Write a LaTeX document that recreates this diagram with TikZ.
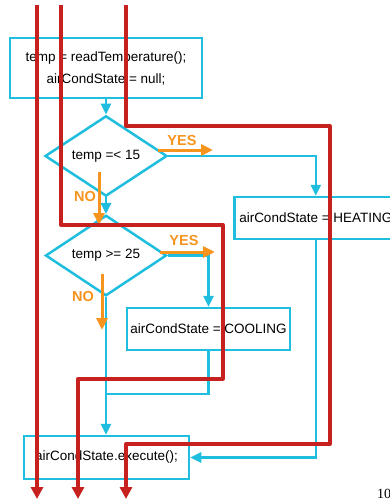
\documentclass[tikz,border=0pt]{standalone}
\usepackage{fontspec}
\setmainfont{Liberation Sans}
\newfontfamily\pagefont{Liberation Serif}
\usetikzlibrary{shapes.geometric,arrows.meta}

\definecolor{flowblue}{RGB}{31,190,222}
\definecolor{tracered}{RGB}{199,33,31}
\definecolor{answer}{RGB}{247,148,30}

\tikzset{
 stmt/.style={draw=flowblue, line width=2.5pt, inner sep=3pt, align=center,
   font=\fontsize{13.5}{22}\selectfont},
 test/.style={diamond, draw=flowblue, line width=2.5pt, inner sep=0pt,
   font=\fontsize{13.5}{16}\selectfont},
 flow/.style={flowblue, line width=2.5pt, -{Triangle[width=10pt,length=11pt]}},
 branch/.style={answer, line width=3pt, -{Triangle[width=11pt,length=12pt]}},
 yesno/.style={text=answer, font=\bfseries\fontsize{14.5}{17}\selectfont},
 trace/.style={tracered, line width=3.3pt, line join=round,
   -{Triangle[width=12pt,length=12pt]}}
}

\begin{document}
\begin{tikzpicture}[x=1pt, y=-1pt]
\clip (0,0) rectangle (390,500);
%\draw[help lines] (0,0) grid[step=50] (390,500);

 \node[stmt, minimum width=192pt, minimum height=60pt] (init) at (106,68)
   {temp = readTemperature();\\airCondState = null;};

 \node[test, minimum width=122pt, minimum height=59pt] (cold) at (106,156) {temp =< 15};
 \node[test, minimum width=121pt, minimum height=57pt] (hot) at (106,255.5) {temp >= 25};

 \node[stmt, anchor=west, minimum height=42pt, inner xsep=5pt] (heat) at (233,218)
   {airCondState = HEATING};
 \node[stmt, minimum width=163pt, minimum height=42pt] (cool) at (208.5,329)
   {airCondState = COOLING};
 \node[stmt, minimum width=165pt, minimum height=43pt] (exec) at (106.5,457.5)
   {airCondState.execute();};

 \coordinate (merge) at (106,394);

 % control flow
 \draw[flow] (init.south) -- (cold.north);
 \draw[flow] (cold.east) -| (heat.north);
 \draw[flow] (cold.south) -- (hot.north);
 \draw[flow] (hot.east) -| (cool.north);
 \draw[flow] (hot.south) -- (hot.south |- exec.north);
 \draw[flowblue, line width=2.5pt] (cool.south) |- (merge);
 \draw[flow] (heat.south) |- (exec.east);

 % answers
 \coordinate (yes1a) at (158,150); \coordinate (yes1b) at (213,150);
 \coordinate (no1a) at (99,172);   \coordinate (no1b) at (99,225);
 \coordinate (yes2a) at (160,252); \coordinate (yes2b) at (215,252);
 \coordinate (no2a) at (102,274);  \coordinate (no2b) at (102,330);
 \draw[branch] (yes1a) -- (yes1b);
 \draw[branch] (no1a) -- (no1b);
 \draw[branch] (yes2a) -- (yes2b);
 \draw[branch] (no2a) -- (no2b);
 \node[yesno] (yes1) at (182,141) {YES};
 \node[yesno] (no1) at (85,197) {NO};
 \node[yesno] (yes2) at (184,241) {YES};
 \node[yesno] (no2) at (83,297) {NO};

 % execution paths
 \coordinate (p1) at (37,5);
 \coordinate (p2) at (61,5);
 \coordinate (p3) at (126,5);
 \draw[trace] (p1) -- (37,499);
 \draw[trace] (p2) -- (61,225) -- (223,225) -- (223,379) -- (78,379) -- (78,499);
 \draw[trace] (p3) -- (126,126) -- (330,126) -- (330,444) -- (126,444) -- (126,499);

 \node[anchor=base west, inner sep=0pt, font=\pagefont\fontsize{14}{16}\selectfont] (page) at (377,498) {10};

\end{tikzpicture}
\end{document}
